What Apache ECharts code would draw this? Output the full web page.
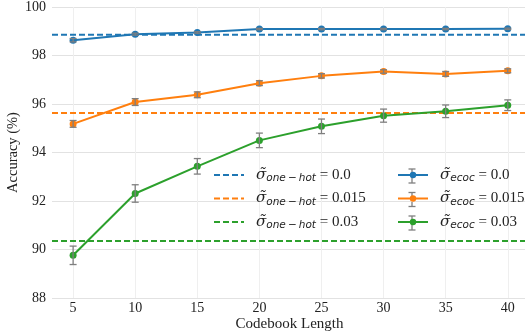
<!DOCTYPE html>
<html><head><meta charset="utf-8">
<script src="https://cdn.jsdelivr.net/npm/echarts@6/dist/echarts.min.js"></script>
<style>html,body{margin:0;padding:0;background:#fff}#c{width:525px;height:335px}</style>
</head><body><div id="c"></div>
<script>
var codebook = [5, 10, 15, 20, 25, 30, 35, 40];
var ecoc00 = [98.63, 98.88, 98.95, 99.09, 99.09, 99.09, 99.09, 99.10];
var ecoc00Err = [0.07, 0.04, 0.03, 0.03, 0.03, 0.03, 0.03, 0.03];
var ecoc015 = [95.18, 96.08, 96.38, 96.86, 97.16, 97.34, 97.24, 97.37];
var ecoc015Err = [0.14, 0.14, 0.12, 0.10, 0.09, 0.07, 0.10, 0.08];
var ecoc03 = [89.76, 92.31, 93.43, 94.50, 95.08, 95.52, 95.70, 95.95];
var ecoc03Err = [0.38, 0.36, 0.32, 0.30, 0.30, 0.27, 0.26, 0.22];
var oneHot = [98.86, 95.63, 90.35];
var sigmaLabels = ['0.0', '0.015', '0.03'];
var yTicks = [88, 90, 92, 94, 96, 98, 100];

var colors = ['#1f77b4', '#ff7f0e', '#2ca02c'];
var ecoc = [ecoc00, ecoc015, ecoc03];
var errs = [ecoc00Err, ecoc015Err, ecoc03Err];
var XMIN = 3.3, XMAX = 41.55;

var series = [];
var ohNames = [], ecNames = [];
for (var i = 0; i < 3; i++) {
  var n = 'oh|' + sigmaLabels[i];
  ohNames.push({name: n, itemStyle: {opacity: 0}});
  series.push({
    name: n, type: 'line', symbol: 'none', silent: true,
    data: [[XMIN, oneHot[i]], [XMAX, oneHot[i]]],
    lineStyle: {color: colors[i], width: 2, type: [6, 3]},
    itemStyle: {color: colors[i]}, z: 3
  });
}
for (var i = 0; i < 3; i++) {
  var n = 'ec|' + sigmaLabels[i];
  ecNames.push({name: n});
  series.push({
    name: n, type: 'line', symbol: 'circle', symbolSize: 7,
    data: codebook.map(function (x, j) { return [x, ecoc[i][j]]; }),
    lineStyle: {color: colors[i], width: 2},
    itemStyle: {color: colors[i]}, z: 4
  });
  (function (ii) {
    series.push({
      type: 'custom', silent: true, z: 5,
      data: codebook.map(function (x, j) { return [x, ecoc[ii][j] - errs[ii][j], ecoc[ii][j] + errs[ii][j]]; }),
      renderItem: function (params, api) {
        var lo = api.coord([api.value(0), api.value(1)]);
        var hi = api.coord([api.value(0), api.value(2)]);
        var w = 3.5;
        var st = {stroke: '#7f7f7f', lineWidth: 1.3};
        return {type: 'group', children: [
          {type: 'line', shape: {x1: lo[0], y1: lo[1], x2: hi[0], y2: hi[1]}, style: st},
          {type: 'line', shape: {x1: lo[0] - w, y1: lo[1], x2: lo[0] + w, y2: lo[1]}, style: st},
          {type: 'line', shape: {x1: hi[0] - w, y1: hi[1], x2: hi[0] + w, y2: hi[1]}, style: st}
        ]};
      }
    });
  })(i);
}

var rich = {
  s: {fontFamily: 'DejaVu Serif', fontStyle: 'italic', fontSize: 15, color: '#222'},
  sub: {fontFamily: 'DejaVu Sans', fontStyle: 'italic', fontSize: 10.5, color: '#222', padding: [7, 0, 0, 0]},
  t: {fontFamily: 'Liberation Serif', fontSize: 15, color: '#222'}
};
function fmt(name) {
  var p = name.split('|');
  var sub = p[0] === 'oh' ? 'one\u2009\u2212\u2009hot' : 'ecoc';
  return '{s|\u03C3\u0303}{sub|' + sub + '}{t| = ' + p[1] + '}';
}
var legendBase = {
  orient: 'vertical', itemWidth: 30, itemHeight: 8, itemGap: 3.5, padding: 0,
  formatter: fmt, textStyle: {rich: rich, lineHeight: 20, padding: [0, 0, 0, 7]},
  selectedMode: false
};

// small error-bar glyphs for the ecoc legend keys (decoration)
var LEG_X = 412, LEG_Y0 = 176, LEG_DY = 23.5;
var legendGlyphs = [0, 1, 2].map(function (k) {
  var cy = LEG_Y0 + k * LEG_DY;
  return {type: 'group', z: 100, children: [
    {type: 'line', shape: {x1: LEG_X, y1: cy - 7, x2: LEG_X, y2: cy + 7}, style: {stroke: '#7f7f7f', lineWidth: 1.3}},
    {type: 'line', shape: {x1: LEG_X - 3.5, y1: cy - 7, x2: LEG_X + 3.5, y2: cy - 7}, style: {stroke: '#7f7f7f', lineWidth: 1.3}},
    {type: 'line', shape: {x1: LEG_X - 3.5, y1: cy + 7, x2: LEG_X + 3.5, y2: cy + 7}, style: {stroke: '#7f7f7f', lineWidth: 1.3}}
  ]};
});

var chart = echarts.init(document.getElementById('c'), null, {renderer: 'canvas'});
chart.setOption({
  backgroundColor: '#ffffff',
  animation: false,
  textStyle: {fontFamily: 'Liberation Serif'},
  grid: {left: 52, right: -2, top: 7, bottom: 37, containLabel: false, outerBoundsMode: 'none'},
  xAxis: {
    type: 'value', min: XMIN, max: XMAX,
    name: 'Codebook Length', nameLocation: 'middle', nameGap: 19, nameMoveOverlap: false,
    nameTextStyle: {fontFamily: 'Liberation Serif', fontSize: 15, color: '#222'},
    axisLine: {show: false}, axisTick: {show: false, customValues: codebook},
    axisLabel: {customValues: codebook, fontFamily: 'Liberation Serif', fontSize: 14, color: '#222', margin: 3},
    splitLine: {show: true, lineStyle: {color: '#efefef', width: 1}}
  },
  yAxis: {
    type: 'value', min: 88, max: 100, interval: 2,
    name: 'Accuracy (%)', nameLocation: 'middle', nameGap: 31, nameMoveOverlap: false,
    nameTextStyle: {fontFamily: 'Liberation Serif', fontSize: 14.5, color: '#222'},
    axisLine: {show: false}, axisTick: {show: false},
    axisLabel: {fontFamily: 'Liberation Serif', fontSize: 14, color: '#222', margin: 6},
    splitLine: {show: true, lineStyle: {color: '#e2e2e2', width: 1.2}}
  },
  legend: [
    Object.assign({}, legendBase, {data: ohNames, left: 213, top: 165}),
    Object.assign({}, legendBase, {data: ecNames, left: 397, top: 165})
  ],
  graphic: legendGlyphs,
  series: series
});
</script></body></html>
